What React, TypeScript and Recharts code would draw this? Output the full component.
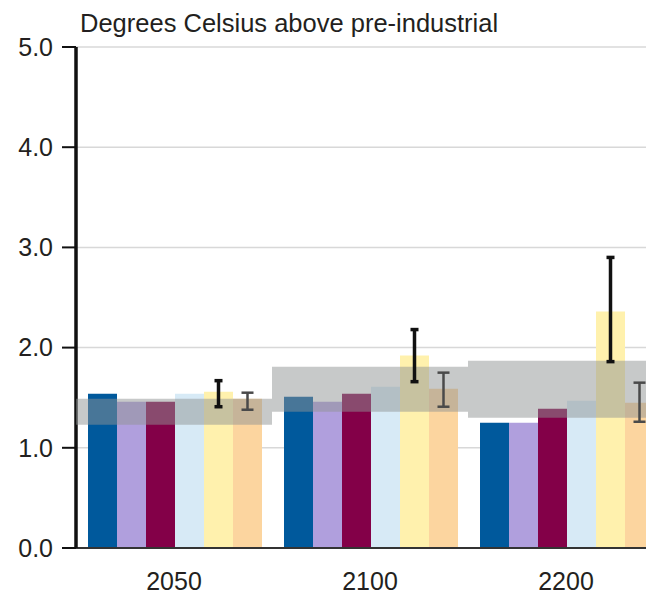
import { BarChart, Bar, XAxis, YAxis, CartesianGrid, ReferenceArea, ErrorBar } from 'recharts'

const YEARS = ['2050', '2100', '2200']
const Y_TICKS = [0, 1, 2, 3, 4, 5]

// warming per scenario, degrees C
const SERIES_A = [1.54, 1.51, 1.25]
const SERIES_B = [1.46, 1.46, 1.25]
const SERIES_C = [1.46, 1.54, 1.39]
const SERIES_D = [1.54, 1.61, 1.47]
const SERIES_E = [1.56, 1.92, 2.36]
const SERIES_F = [1.49, 1.59, 1.45]

// uncertainty ranges (low, high) for the last two scenarios
const RANGE_E_LOW = [1.41, 1.66, 1.86]
const RANGE_E_HIGH = [1.67, 2.18, 2.9]
const RANGE_F_LOW = [1.38, 1.41, 1.26]
const RANGE_F_HIGH = [1.55, 1.75, 1.65]

// shaded reference band per year
const BAND_LOW = [1.23, 1.36, 1.3]
const BAND_HIGH = [1.49, 1.81, 1.87]

const COLORS = ['#00599c', '#b09fdd', '#830048', '#d7eaf6', '#fff1ad', '#fcd59f']
const KEYS = ['a', 'b', 'c', 'd', 'e', 'f']
const VALUES = [SERIES_A, SERIES_B, SERIES_C, SERIES_D, SERIES_E, SERIES_F]

const rows = YEARS.map((year, i) => {
  const row: any = { year }
  KEYS.forEach((k, j) => (row[k] = VALUES[j][i]))
  row.errE = [SERIES_E[i] - RANGE_E_LOW[i], RANGE_E_HIGH[i] - SERIES_E[i]]
  row.errF = [SERIES_F[i] - RANGE_F_LOW[i], RANGE_F_HIGH[i] - SERIES_F[i]]
  return row
})

// the plot runs past the right edge and is clipped by the frame
const W = 664
const H = 594
const TEXT = '#231f20'
const FONT = '"Liberation Sans", Arial, sans-serif'

export default function App() {
  return (
    <div
      style={{
        position: 'absolute',
        left: 0,
        top: 0,
        width: 646,
        height: H,
        overflow: 'hidden',
        fontFamily: FONT,
        background: '#fff',
      }}
    >
      {/* base layer: grid, axes and bars */}
      <div style={{ position: 'absolute', left: 0, top: 0 }}>
        <BarChart
          width={W}
          height={H}
          data={rows}
          margin={{ top: 47, right: 0, bottom: 0, left: 0 }}
          barCategoryGap={12}
          barGap={0}
        >
          <CartesianGrid vertical={false} stroke="#d8d8d8" strokeWidth={1.5} />
          <XAxis
            dataKey="year"
            height={46}
            axisLine={{ stroke: '#333', strokeWidth: 2 }}
            tickLine={false}
            tickMargin={18}
            tick={{ fontSize: 25, fill: TEXT }}
          />
          <YAxis
            width={76}
            domain={[0, 5]}
            ticks={Y_TICKS}
            interval={0}
            tickFormatter={(v: number) => v.toFixed(1)}
            axisLine={{ stroke: '#111', strokeWidth: 3.5 }}
            tickLine={{ stroke: '#111', strokeWidth: 2 }}
            tickSize={14}
            tickMargin={9}
            tick={{ fontSize: 25, fill: TEXT }}
          />
          {KEYS.map((k, j) => (
            <Bar key={k} dataKey={k} fill={COLORS[j]} isAnimationActive={false} />
          ))}
        </BarChart>
      </div>

      {/* top layer: translucent bands, then error bars above them */}
      <div style={{ position: 'absolute', left: 0, top: 0 }}>
        <BarChart
          width={W}
          height={H}
          data={rows}
          margin={{ top: 47, right: 0, bottom: 46, left: 76 }}
          barCategoryGap={12}
          barGap={0}
        >
          <XAxis dataKey="year" hide />
          <YAxis domain={[0, 5]} hide />
          {YEARS.map((year, i) => (
            <ReferenceArea
              key={year}
              x1={year}
              x2={year}
              y1={BAND_LOW[i]}
              y2={BAND_HIGH[i]}
              fill="#8f9393"
              fillOpacity={0.5}
              stroke="none"
            />
          ))}
          {KEYS.map((k) => (
            <Bar key={k} dataKey={k} fill="transparent" isAnimationActive={false}>
              {k === 'e' && (
                <ErrorBar dataKey="errE" stroke="#111" strokeWidth={3.5} width={4} isAnimationActive={false} />
              )}
              {k === 'f' && (
                <ErrorBar dataKey="errF" stroke="#4a4a4a" strokeWidth={2.5} width={6} isAnimationActive={false} />
              )}
            </Bar>
          ))}
        </BarChart>
      </div>

      <svg width={646} height={44} style={{ position: 'absolute', left: 0, top: 0 }}>
        <text x={80} y={32} fontSize={25.5} fill={TEXT} fontFamily={FONT}>
          Degrees Celsius above pre-industrial
        </text>
      </svg>
    </div>
  )
}
